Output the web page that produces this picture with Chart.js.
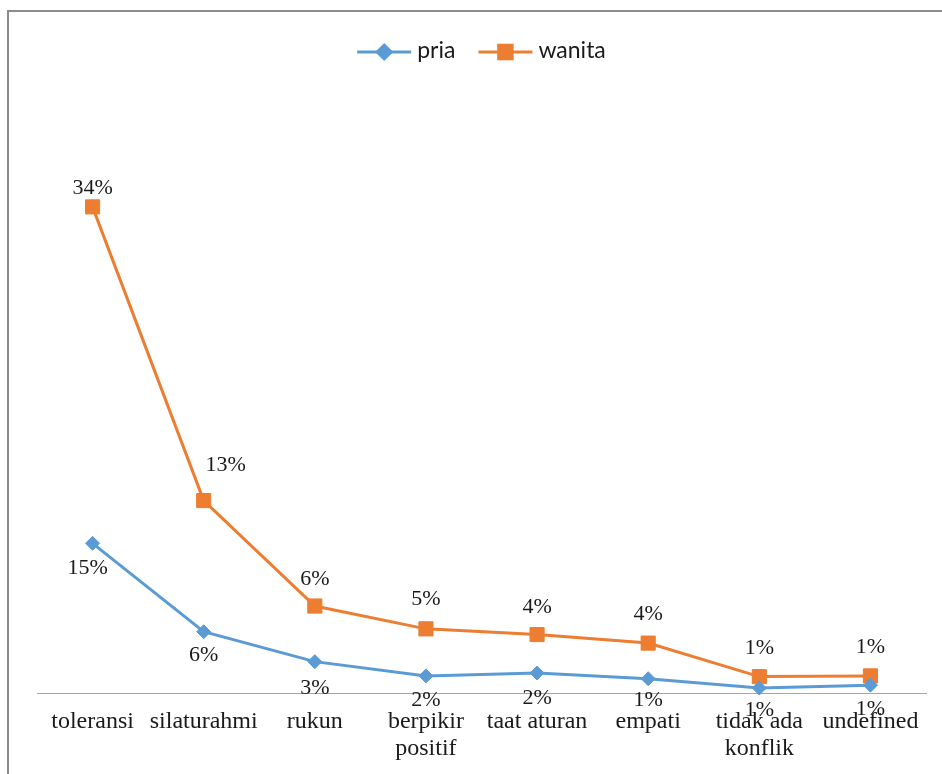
<!DOCTYPE html>
<html>
<head>
<meta charset="utf-8">
<style>
  html, body { margin: 0; padding: 0; background: #fff; overflow: hidden; }
  canvas { display: block; }
</style>
<script src="https://cdn.jsdelivr.net/npm/chart.js@4/dist/chart.umd.min.js"></script>
</head>
<body>
<canvas id="chart" width="942" height="774"></canvas>
<script>
// categories and series (labels as printed)
const categories = ['toleransi', 'silaturahmi', 'rukun', ['berpikir', 'positif'], 'taat aturan', 'empati', ['tidak ada', 'konflik'], 'undefined'];
const priaValues = [10.5, 4.3, 2.2, 1.2, 1.4, 1.0, 0.35, 0.55];
const wanitaValues = [34.1, 13.5, 6.1, 4.5, 4.1, 3.5, 1.15, 1.2];
const priaLabels = ['15%', '6%', '3%', '2%', '2%', '1%', '1%', '1%'];
const wanitaLabels = ['34%', '13%', '6%', '5%', '4%', '4%', '1%', '1%'];

const BLUE = '#5b9bd5';
const ORANGE = '#ed7d31';

// label placement (label centre relative to marker)
const priaLabelDx = [-5, 0, 0, 0, 0, 0, 0, 0];
const priaLabelDy = [23, 22, 25, 23, 23, 20, 20, 22];
const wanitaLabelDx = [0, 22, 0, 0, 0, 0, 0, 0];
const wanitaLabelDy = [-20, -37, -29, -31, -29, -31, -30, -30];

// frame around the chart (cut by the picture on the right and bottom)
const framePlugin = {
    id: 'frame',
    beforeDraw(chart) {
        const ctx = chart.ctx;
        ctx.save();
        ctx.fillStyle = '#8c8c8c';
        ctx.fillRect(7, 10, 2, chart.height);
        ctx.fillRect(7, 10, chart.width, 2);
        ctx.restore();
    }
};

// value labels: wanita above, pria below
const valueLabelPlugin = {
    id: 'valueLabels',
    afterDatasetsDraw(chart) {
        const ctx = chart.ctx;
        const sets = [
            { idx: 0, labels: priaLabels, dx: priaLabelDx, dy: priaLabelDy },
            { idx: 1, labels: wanitaLabels, dx: wanitaLabelDx, dy: wanitaLabelDy }
        ];
        ctx.save();
        ctx.font = "22px 'Liberation Serif', 'Times New Roman', serif";
        ctx.fillStyle = '#1a1a1a';
        ctx.textAlign = 'center';
        ctx.textBaseline = 'alphabetic';
        sets.forEach(s => {
            chart.getDatasetMeta(s.idx).data.forEach((pt, i) => {
                ctx.fillText(s.labels[i], pt.x + s.dx[i], pt.y + s.dy[i] + 7.5);
            });
        });
        ctx.restore();
    }
};

// legend: line sample with marker, then series name
const legendPlugin = {
    id: 'lineLegend',
    afterDraw(chart) {
        const ctx = chart.ctx;
        const area = chart.chartArea;
        const lineW = 54, gap = 6, itemGap = 23, y = 52;
        ctx.save();
        ctx.font = "23px Lato, 'Noto Sans', sans-serif";
        const items = chart.data.datasets.map(ds => ({
            ds: ds,
            w: lineW + gap + ctx.measureText(ds.label).width
        }));
        const total = items.reduce((a, it) => a + it.w, 0) + itemGap * (items.length - 1);
        let x = (area.left + area.right) / 2 - total / 2;
        items.forEach(it => {
            const ds = it.ds;
            ctx.strokeStyle = ds.borderColor;
            ctx.lineWidth = 3;
            ctx.beginPath();
            ctx.moveTo(x, y);
            ctx.lineTo(x + lineW, y);
            ctx.stroke();
            Chart.helpers.drawPoint(ctx, {
                pointStyle: ds.pointStyle,
                radius: ds.pointStyle === 'rect' ? 9.5 : 7,
                borderWidth: 1,
                rotation: 0
            }, x + lineW / 2, y);
            ctx.fillStyle = ds.borderColor;
            ctx.fill();
            ctx.fillStyle = '#1a1a1a';
            ctx.textAlign = 'left';
            ctx.textBaseline = 'alphabetic';
            ctx.fillText(ds.label, x + lineW + gap, y + 6);
            x += it.w + itemGap;
        });
        ctx.restore();
    }
};

new Chart(document.getElementById('chart').getContext('2d'), {
    type: 'line',
    data: {
        labels: categories,
        datasets: [
            {
                label: 'pria',
                data: priaValues,
                borderColor: BLUE,
                backgroundColor: BLUE,
                borderWidth: 3,
                pointStyle: 'rectRot',
                pointRadius: 7,
                pointBorderWidth: 1,
                pointBackgroundColor: BLUE,
                pointBorderColor: BLUE,
                tension: 0,
                clip: false
            },
            {
                label: 'wanita',
                data: wanitaValues,
                borderColor: ORANGE,
                backgroundColor: ORANGE,
                borderWidth: 3,
                pointStyle: 'rect',
                pointRadius: 10,
                pointBorderWidth: 1,
                pointBackgroundColor: ORANGE,
                pointBorderColor: ORANGE,
                tension: 0,
                clip: false
            }
        ]
    },
    options: {
        responsive: false,
        animation: false,
        devicePixelRatio: 1,
        layout: { padding: { top: 80, left: 37, right: 16, bottom: 0 } },
        plugins: {
            legend: { display: false },
            tooltip: { enabled: false }
        },
        scales: {
            x: {
                offset: true,
                grid: { display: false, drawTicks: false },
                border: { display: true, color: '#a6a6a6', width: 1 },
                ticks: {
                    color: '#1a1a1a',
                    font: { family: "'Liberation Serif', 'Times New Roman', serif", size: 24, lineHeight: 1.125 },
                    padding: 15,
                    maxRotation: 0,
                    autoSkip: false
                },
                afterFit(scale) { scale.height = 81; }
            },
            y: {
                display: false,
                min: 0,
                max: 43
            }
        }
    },
    plugins: [framePlugin, valueLabelPlugin, legendPlugin]
});
</script>
</body>
</html>
